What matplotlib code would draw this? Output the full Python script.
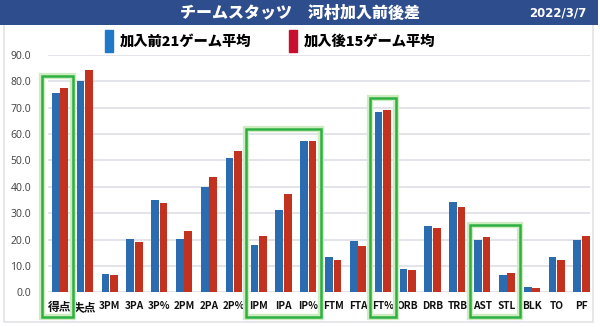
import matplotlib
matplotlib.use("Agg")
import matplotlib.pyplot as plt
from matplotlib.patches import Rectangle
from matplotlib.font_manager import FontProperties
import numpy as np

plt.rcParams['font.family'] = ['Noto Sans CJK JP', 'DejaVu Sans']

title = "チームスタッツ　河村加入前後差"
date_text = "2022/3/7"
categories = ["得点", "失点", "3PM", "3PA", "3P%", "2PM", "2PA", "2P%", "IPM", "IPA", "IP%",
              "FTM", "FTA", "FT%", "ORB", "DRB", "TRB", "AST", "STL", "BLK", "TO", "PF"]
series_names = ["加入前21ゲーム平均", "加入後15ゲーム平均"]
before = [75.5, 80.1, 6.9, 20.2, 35.1, 20.2, 39.9, 50.9, 17.8, 31.2, 57.3,
          13.3, 19.3, 68.4, 9.0, 25.3, 34.4, 20.0, 6.6, 1.9, 13.3, 19.8]
after = [77.4, 84.2, 6.4, 19.0, 34.0, 23.1, 43.6, 53.6, 21.5, 37.3, 57.3,
         12.4, 17.6, 69.3, 8.6, 24.3, 32.4, 21.0, 7.4, 1.5, 12.4, 21.5]
yticks = [0, 10, 20, 30, 40, 50, 60, 70, 80, 90]
# highlighted groups: (first category, last category)
highlights = [("得点", "得点"), ("IPM", "IP%"), ("FT%", "FT%"), ("AST", "STL")]

W, H = 600, 327
fig = plt.figure(figsize=(W / 100, H / 100), dpi=100)
fig.patch.set_facecolor("white")

# outer light frame
fig.patches.append(Rectangle((4 / W, 5 / H), 589 / W, 300 / H, transform=fig.transFigure,
                             fill=False, edgecolor="#E3E3E8", lw=1.2, zorder=0))
# title bar
fig.patches.append(Rectangle((0, 1 - 25 / H), 598 / W, 25 / H, transform=fig.transFigure,
                             facecolor="#2D4D8C", edgecolor="none", zorder=1))
fig.text(300 / W, 1 - 12.5 / H, title, color="white", fontsize=11.5, fontweight="heavy",
         ha="center", va="center")
fig.text(558 / W, 1 - 13 / H, date_text, color="white", fontsize=8.5, fontweight="bold",
         ha="center", va="center", family=["DejaVu Sans"])

ax = fig.add_axes([48 / W, (H - 292.3) / H, 542 / W, (292.3 - 55) / H])
x = np.arange(len(categories))
bw = 0.31
off = 0.17
b1 = ax.bar(x - off, before, bw, color="#2B6BB0", label=series_names[0], zorder=3)
b2 = ax.bar(x + off, after, bw, color="#C3321F", label=series_names[1], zorder=3)

ax.set_xlim(-0.48, 21.34)
ax.set_ylim(0, 90)
ax.set_yticks(yticks)
ax.set_yticklabels([f"{v:.1f}" for v in yticks], color="#4A4A4A", fontsize=7.5,
                   family=["Noto Sans"])
ax.set_xticks(x)
ax.set_xticklabels(categories, fontsize=7.3, fontweight="bold", color="#111111")
for t in ax.get_xticklabels():
    if not t.get_text().isascii():
        t.set_fontsize(8.5)
ax.tick_params(axis="both", length=0)
ax.tick_params(axis="y", pad=12)
ax.tick_params(axis="x", pad=6)
for s in ax.spines.values():
    s.set_visible(False)
ax.grid(axis="y", color="#E0E0E8", lw=1.3, zorder=0)
ax.set_axisbelow(True)

# green highlight boxes
idx = {c: i for i, c in enumerate(categories)}
for a, b in highlights:
    i0, i1 = idx[a], idx[b]
    top = max(max(before[i0:i1 + 1]), max(after[i0:i1 + 1])) + 4.5
    left = i0 - (0.74 if i0 == 0 else 0.5)
    right = i1 + 0.53
    bottom = -9.4
    for lw, col, z in [(4.5, "#CFEBC0", 4), (1.8, "#2DB042", 5)]:
        ax.add_patch(Rectangle((left, bottom), right - left, top - bottom, fill=False,
                               edgecolor=col, lw=lw, clip_on=False, zorder=z))

leg = fig.legend(handles=[b1, b2], labels=series_names, loc="center",
                 bbox_to_anchor=(270 / W, 1 - 41 / H), ncol=2, frameon=False,
                 prop=FontProperties(family=["Noto Sans CJK JP"], weight="heavy", size=10.3),
                 handlelength=0.58, handleheight=1.9, handletextpad=0.45,
                 columnspacing=2.6, borderpad=0)
for h, c in zip(leg.legend_handles, ["#1F78C8", "#C8102E"]):
    h.set_color(c)

fig.savefig("out.png", dpi=100)
